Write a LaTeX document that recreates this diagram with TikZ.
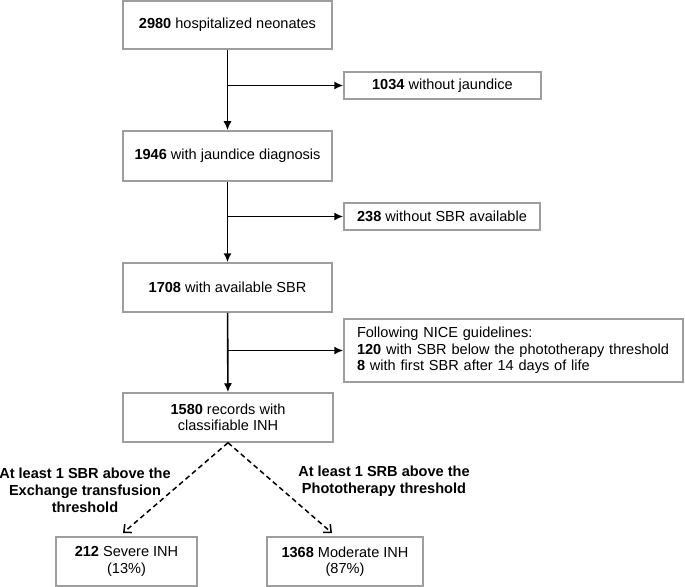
\documentclass[tikz,border=0pt]{standalone}
\usepackage{fontspec}
\setmainfont{Liberation Sans}
\usetikzlibrary{arrows.meta}
\definecolor{boxgray}{RGB}{158,158,158}
\tikzset{
  box/.style={draw=boxgray, line width=1.5bp, fill=white, align=center, inner sep=0pt,
    font=\fontsize{14.6}{16.5}\selectfont},
  flow/.style={line width=1.6bp, -{Latex[length=9bp,width=8bp]}},
  dflow/.style={line width=1.5bp, dashed, dash pattern=on 5bp off 3.5bp, -{Straight Barb[length=6bp,width=11bp]}},
  lbl/.style={align=center, font=\fontsize{14.6}{17}\selectfont\bfseries}
}
\begin{document}
\begin{tikzpicture}[x=1bp,y=-1bp]
\useasboundingbox (0,0) rectangle (685,587);
\node[box, minimum width=209bp, minimum height=48bp] (b1) at (227.5,25) {\textbf{2980} hospitalized neonates};
\node[box, minimum width=209bp, minimum height=50bp] (b2) at (227.5,156) {\textbf{1946} with jaundice diagnosis};
\node[box, minimum width=209bp, minimum height=49bp] (b3) at (227.5,287.5) {\textbf{1708} with available SBR};
\node[box, minimum width=210bp, minimum height=49bp] (b4) at (228,417.5) {\textbf{1580} records with\\classifiable INH};
\node[box, minimum width=197bp, minimum height=27bp] (e1) at (442.5,85.5) {\textbf{1034} without jaundice};
\node[box, minimum width=196bp, minimum height=27bp] (e2) at (442,216.5) {\textbf{238} without SBR available};
\node[box, minimum width=339bp, minimum height=63bp, align=left, text width=313bp, inner xsep=13bp] (e3) at (513.5,350.5) {Following NICE guidelines:\\\textbf{120} with SBR below the phototherapy threshold\\\textbf{8} with first SBR after 14 days of life};
\node[box, minimum width=141bp, minimum height=49bp] (s1) at (126.5,561.5) {\textbf{212} Severe INH\\(13\%)};
\node[box, minimum width=156bp, minimum height=49bp] (s2) at (345,561.5) {\textbf{1368} Moderate INH\\(87\%)};

\coordinate (j1) at (b1.south |- e1.west);
\coordinate (j2) at (b2.south |- e2.west);
\coordinate (j3) at (b3.south |- e3.west);
\coordinate (tl) at (123,533);
\coordinate (tr) at (332,533);

\draw[flow] (b1) -- (b2);
\draw[flow] (b2) -- (b3);
\draw[flow] (b3) -- (b4);
\draw[flow] (j1) -- (e1.west);
\draw[flow] (j2) -- (e2.west);
\draw[flow] (j3) -- (e3.west);
\draw[dflow] (b4.south) -- (tl);
\draw[dflow] (b4.south) -- (tr);

\node[lbl] (l1) at (85,490) {At least 1 SBR above the\\Exchange transfusion\\threshold};
\node[lbl] (l2) at (384,481.5) {At least 1 SRB above the\\Phototherapy threshold};
\end{tikzpicture}
\end{document}
